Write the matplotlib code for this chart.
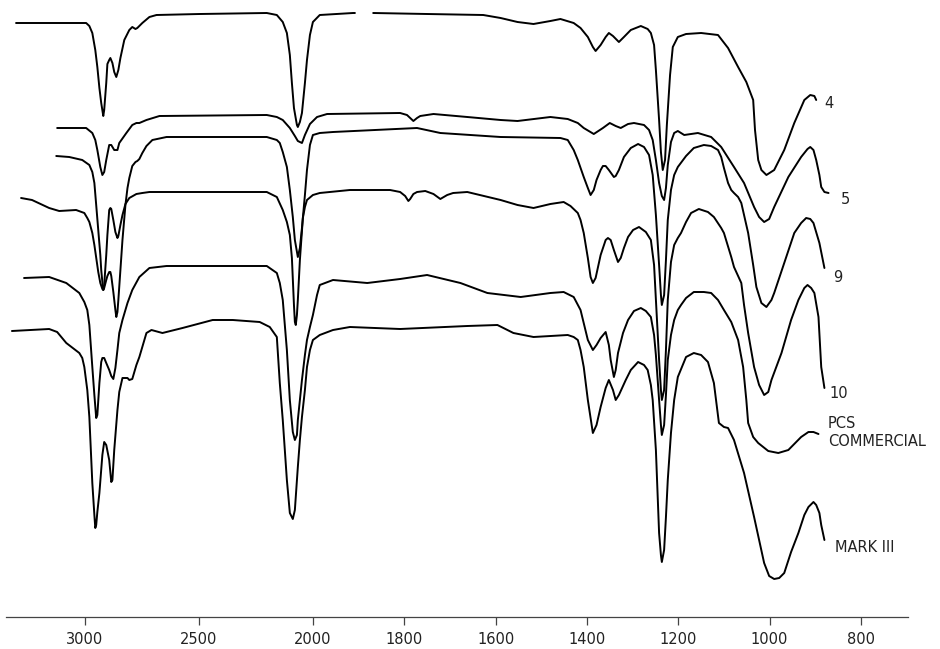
import numpy as np
import matplotlib
matplotlib.use("Agg")
import matplotlib.pyplot as plt

nan = np.nan

# wavenumber (cm-1) and offset trace height (0 at top)
wn_4 = [3300, 3155, 2993, 2979, 2966, 2953, 2944, 2935, 2927, 2918, 2914, 2905, 2900, 2892, 2887,
        2878, 2870, 2861, 2852, 2843, 2826, 2804, 2791, 2777, 2769, 2747, 2716, 2685, 2496, 2202,
        2158, 2132, 2114, 2101, 2092, 2083, 2070, 2066, 2057, 2048, 2035, 2026, 2013, 2000, 1985,
        1912, 1908, 1890, 1868, 1750, 1627, 1589, 1552, 1517, 1480, 1458, 1429, 1414, 1398, 1387,
        1381, 1370, 1359, 1352, 1343, 1330, 1319, 1304, 1282, 1267, 1260, 1253, 1249, 1242, 1238,
        1234, 1229, 1225, 1218, 1212, 1201, 1183, 1150, 1113, 1091, 1069, 1051, 1036, 1032, 1025,
        1018, 1007, 990, 968, 946, 924, 911, 902, 898]
t_4 = [23, 23, 23, 26, 33, 50, 67, 88, 103, 116, 110, 83, 64, 60, 58,
       63, 72, 77, 70, 58, 40, 30, 27, 29, 28, 23, 17, 15, 14, 13,
       15, 22, 33, 55, 83, 108, 125, 127, 122, 113, 83, 60, 35, 22, 15,
       13, 13, nan, 13, 14, 15, 18, 22, 24, 21, 19, 23, 28, 37, 47,
       51, 45, 37, 33, 36, 42, 37, 30, 26, 29, 33, 45, 70, 120, 152,
       170, 160, 125, 75, 47, 37, 34, 33, 35, 48, 67, 82, 100, 130, 160,
       170, 175, 170, 150, 123, 100, 95, 96, 100]

wn_5 = [3120, 2993, 2966, 2953, 2944, 2931, 2922, 2914, 2905, 2892, 2883, 2870, 2856, 2848, 2817,
        2791, 2773, 2760, 2729, 2672, 2202, 2158, 2132, 2101, 2079, 2066, 2048, 2035, 2013, 1991,
        1969, 1809, 1794, 1787, 1780, 1772, 1765, 1736, 1662, 1589, 1552, 1480, 1442, 1420, 1407,
        1385, 1365, 1350, 1337, 1326, 1310, 1297, 1275, 1264, 1256, 1249, 1242, 1236, 1231, 1227,
        1223, 1216, 1209, 1201, 1187, 1157, 1128, 1106, 1078, 1056, 1034, 1023, 1012, 1001, 990,
        959, 931, 917, 911, 904, 898, 891, 887, 880, 871]
t_5 = [128, 128, 133, 140, 150, 167, 175, 172, 160, 145, 145, 150, 150, 143, 133,
       125, 123, 123, 120, 116, 115, 117, 120, 128, 136, 141, 143, 135, 124, 117,
       114, 113, 115, 118, 121, 118, 116, 114, 117, 120, 121, 117, 119, 123, 128,
       134, 128, 123, 126, 128, 124, 123, 125, 130, 140, 160, 183, 196, 200, 188,
       165, 142, 133, 131, 135, 133, 137, 147, 167, 183, 207, 217, 222, 219, 207,
       177, 157, 149, 147, 150, 160, 175, 187, 192, 193]

wn_9 = [3124, 3067, 3010, 2979, 2966, 2957, 2949, 2940, 2931, 2927, 2922, 2918, 2914, 2905, 2900,
        2892, 2887, 2883, 2874, 2865, 2861, 2856, 2852, 2843, 2834, 2821, 2812, 2804, 2791, 2777,
        2769, 2760, 2747, 2729, 2703, 2641, 2202, 2158, 2145, 2132, 2114, 2101, 2088, 2079, 2066,
        2057, 2048, 2035, 2026, 2013, 2000, 1985, 1956, 1772, 1721, 1589, 1458, 1442, 1429, 1420,
        1407, 1398, 1392, 1385, 1379, 1370, 1365, 1359, 1352, 1341, 1337, 1330, 1319, 1304, 1288,
        1275, 1264, 1256, 1249, 1242, 1238, 1236, 1231, 1227, 1223, 1216, 1209, 1201, 1183, 1166,
        1144, 1128, 1113, 1106, 1100, 1091, 1084, 1078, 1069, 1062, 1056, 1047, 1036, 1029, 1018,
        1007, 996, 990, 968, 946, 931, 920, 911, 904, 891, 880]
t_9 = [156, 157, 160, 165, 172, 183, 205, 230, 255, 270, 282, 290, 288, 280, 276,
       272, 272, 276, 292, 310, 317, 312, 300, 270, 240, 205, 188, 178, 166, 162,
       161, 159, 153, 146, 140, 137, 137, 140, 143, 152, 167, 190, 217, 240, 257,
       248, 228, 195, 170, 145, 135, 133, 132, 128, 133, 137, 138, 140, 150, 160,
       177, 188, 195, 190, 180, 170, 166, 166, 170, 177, 176, 170, 157, 148, 144,
       147, 155, 175, 215, 265, 295, 305, 295, 260, 220, 190, 175, 167, 156, 148,
       145, 146, 150, 157, 168, 183, 190, 193, 197, 203, 215, 233, 265, 287, 303,
       307, 300, 293, 263, 233, 223, 218, 219, 223, 243, 268]

wn_10 = [3278, 3230, 3155, 3111, 3037, 3001, 2988, 2979, 2966, 2957, 2949, 2940, 2931, 2922, 2918,
         2914, 2905, 2900, 2892, 2887, 2883, 2874, 2865, 2856, 2852, 2843, 2834, 2821, 2804, 2773,
         2747, 2716, 2202, 2158, 2132, 2114, 2101, 2092, 2088, 2083, 2079, 2075, 2070, 2066, 2057,
         2048, 2044, 2035, 2026, 2000, 1985, 1919, 1831, 1809, 1798, 1791, 1787, 1780, 1772, 1754,
         1736, 1721, 1706, 1693, 1662, 1589, 1552, 1517, 1480, 1451, 1436, 1420, 1414, 1407, 1398,
         1392, 1387, 1381, 1370, 1359, 1354, 1348, 1341, 1332, 1326, 1319, 1310, 1299, 1286, 1271,
         1260, 1253, 1249, 1242, 1238, 1236, 1231, 1227, 1223, 1216, 1209, 1201, 1194, 1183, 1172,
         1155, 1135, 1122, 1106, 1100, 1084, 1078, 1062, 1056, 1047, 1034, 1023, 1012, 1003, 996,
         974, 953, 937, 924, 917, 909, 902, 893, 887, 880]
t_10 = [198, 200, 208, 211, 210, 213, 218, 222, 233, 245, 258, 272, 283, 289, 290,
        285, 255, 235, 210, 208, 209, 220, 232, 238, 236, 225, 215, 204, 198, 194,
        193, 192, 192, 197, 210, 222, 235, 258, 280, 305, 322, 325, 315, 300, 260,
        230, 218, 207, 200, 195, 193, 190, 190, 192, 196, 201, 199, 194, 192, 191,
        194, 199, 195, 193, 192, 200, 205, 208, 204, 202, 206, 213, 220, 233, 258,
        277, 283, 278, 255, 240, 238, 240, 250, 262, 258, 248, 237, 230, 227, 232,
        240, 265, 300, 360, 390, 400, 390, 350, 300, 262, 245, 238, 233, 222, 213,
        209, 212, 217, 228, 233, 257, 267, 283, 305, 333, 367, 385, 395, 392, 380,
        353, 320, 300, 288, 285, 288, 293, 317, 367, 388]

wn_pcs = [3265, 3155, 3080, 3023, 3001, 2988, 2979, 2966, 2957, 2949, 2944, 2935, 2927, 2922, 2914,
          2905, 2892, 2883, 2874, 2865, 2856, 2848, 2834, 2812, 2791, 2760, 2716, 2641, 2202, 2158,
          2145, 2132, 2114, 2101, 2088, 2079, 2070, 2066, 2057, 2048, 2035, 2026, 2013, 2000, 1991,
          1985, 1956, 1881, 1809, 1750, 1677, 1618, 1545, 1480, 1451, 1429, 1414, 1398, 1387, 1379,
          1370, 1359, 1352, 1348, 1341, 1337, 1332, 1321, 1310, 1297, 1282, 1271, 1260, 1253, 1249,
          1242, 1238, 1236, 1231, 1227, 1223, 1216, 1209, 1201, 1194, 1183, 1166, 1144, 1128, 1113,
          1100, 1084, 1069, 1058, 1051, 1047, 1036, 1025, 1003, 981, 959, 931, 915, 904, 893]
t_pcs = [278, 277, 283, 293, 302, 310, 325, 367, 395, 418, 415, 383, 362, 358, 358,
         363, 370, 376, 379, 368, 350, 333, 320, 303, 290, 277, 268, 266, 266, 273,
         283, 300, 350, 400, 432, 440, 435, 420, 400, 380, 355, 340, 327, 315, 295,
         285, 280, 283, 279, 275, 283, 293, 297, 293, 292, 297, 310, 340, 350, 345,
         338, 332, 345, 360, 377, 370, 353, 333, 320, 311, 308, 311, 317, 335, 355,
         400, 425, 435, 425, 395, 360, 335, 320, 310, 305, 298, 292, 292, 293, 300,
         310, 322, 340, 367, 400, 423, 437, 443, 451, 453, 450, 437, 432, 432, 434]

wn_m3 = [3318, 3155, 3120, 3080, 3023, 3010, 3001, 2988, 2979, 2966, 2957, 2953, 2949, 2944, 2935,
         2922, 2914, 2905, 2892, 2883, 2878, 2870, 2856, 2848, 2834, 2812, 2804, 2791, 2773, 2760,
         2729, 2707, 2659, 2571, 2439, 2351, 2233, 2189, 2158, 2145, 2132, 2123, 2114, 2101, 2088,
         2079, 2066, 2057, 2048, 2035, 2026, 2013, 2000, 1985, 1956, 1919, 1809, 1662, 1596, 1561,
         1517, 1442, 1429, 1420, 1414, 1407, 1398, 1387, 1379, 1370, 1359, 1352, 1343, 1337, 1330,
         1315, 1304, 1288, 1275, 1267, 1260, 1256, 1249, 1242, 1238, 1236, 1231, 1227, 1223, 1216,
         1209, 1201, 1183, 1166, 1150, 1135, 1122, 1111, 1100, 1091, 1078, 1056, 1034, 1012, 1001,
         990, 979, 968, 953, 937, 924, 915, 904, 898, 891, 887, 880]
t_m3 = [331, 329, 332, 343, 353, 358, 367, 390, 417, 483, 515, 528, 525, 512, 493,
        455, 442, 445, 460, 482, 480, 450, 410, 392, 378, 378, 380, 379, 365, 357,
        333, 330, 333, 328, 320, 320, 322, 327, 337, 383, 420, 450, 480, 513, 519,
        510, 467, 440, 417, 390, 367, 350, 340, 335, 330, 327, 329, 326, 325, 333,
        337, 335, 337, 340, 350, 367, 400, 433, 425, 407, 388, 380, 390, 400, 395,
        380, 370, 362, 365, 370, 385, 400, 450, 533, 555, 562, 550, 517, 480, 433,
        400, 377, 357, 353, 355, 362, 383, 423, 427, 428, 440, 473, 517, 563, 576,
        579, 578, 573, 552, 533, 515, 507, 502, 505, 513, 525, 540]

ticks = [3000, 2500, 2000, 1800, 1600, 1400, 1200, 1000, 800]


def fwd(w):
    w = np.asarray(w, dtype=float)
    return np.where(w > 2000, 2000 + (w - 2000) * 0.5, w)


def inv(u):
    u = np.asarray(u, dtype=float)
    return np.where(u > 2000, 2000 + (u - 2000) * 2.0, u)


fig = plt.figure(figsize=(9.4, 6.49), dpi=100)
ax = fig.add_axes([6 / 940, 32 / 649, 902 / 940, 617 / 649])
ax.set_xscale('function', functions=(fwd, inv))
ax.set_xlim(3344, 697)
ax.set_ylim(617, 0)

for wn, t in [(wn_4, t_4), (wn_5, t_5), (wn_9, t_9), (wn_10, t_10), (wn_pcs, t_pcs), (wn_m3, t_m3)]:
    ax.plot(wn, t, color='black', lw=1.4, solid_joinstyle='round', solid_capstyle='round', clip_on=False)

lab = dict(fontsize=10.5, color='#222222', va='center', ha='left', clip_on=False)
ax.text(881, 104, '4', **lab)
ax.text(844, 199, '5', **lab)
ax.text(861, 278, '9', **lab)
ax.text(868, 393, '10', **lab)
ax.text(872, 423, 'PCS', **lab)
ax.text(872, 442, 'COMMERCIAL', **lab)
ax.text(857, 547, 'MARK III', **lab)

for s in ['top', 'left', 'right']:
    ax.spines[s].set_visible(False)
ax.spines['bottom'].set_color('#444444')
ax.spines['bottom'].set_linewidth(0.9)
ax.set_yticks([])
ax.set_xticks(ticks)
ax.set_xticklabels([str(v) for v in ticks])
ax.xaxis.set_minor_locator(matplotlib.ticker.NullLocator())
ax.tick_params(axis='x', direction='out', length=6, width=0.9, color='#444444',
               labelsize=10.5, labelcolor='#222222', pad=5)

fig.savefig('out.png', dpi=100)
